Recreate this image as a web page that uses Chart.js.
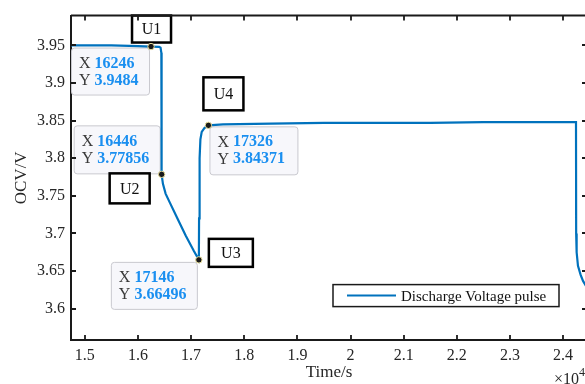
<!DOCTYPE html>
<html>
<head>
<meta charset="utf-8">
<script src="https://cdn.jsdelivr.net/npm/chart.js@4/dist/chart.umd.min.js"></script>
<style>
  html, body { margin: 0; padding: 0; background: #fff; overflow: hidden; }
  #wrap { width: 600px; height: 384px; }
</style>
</head>
<body>
<div id="wrap"><canvas id="chart" width="600" height="384"></canvas></div>
<script>
// discharge pulse
const timeS = [14740, 15500, 16000, 16246, 16400, 16425, 16440, 16444, 16446, 16470, 16520, 16600, 16750,
  16900, 17050, 17146, 17150, 17160, 17175, 17200, 17250, 17326, 17600, 18500, 19500, 20500, 21500,
  22500, 23500, 24243, 24246, 24255, 24280, 24330, 24375, 24450]
const ocvV = [3.950, 3.950, 3.949, 3.9484, 3.948, 3.947, 3.940, 3.900, 3.77856, 3.766, 3.753, 3.741, 3.719,
  3.697, 3.677, 3.66496, 3.720, 3.800, 3.825, 3.835, 3.840, 3.84371, 3.845, 3.846, 3.847, 3.847, 3.847,
  3.848, 3.848, 3.848, 3.700, 3.675, 3.657, 3.645, 3.637, 3.628]

const xTicks = [15000, 16000, 17000, 18000, 19000, 20000, 21000, 22000, 23000, 24000]
const yTicks = [3.6, 3.65, 3.7, 3.75, 3.8, 3.85, 3.9, 3.95]

const tipNames = ['U1', 'U2', 'U3', 'U4']
const tipTimes = [16246, 16446, 17146, 17326]
const tipValues = [3.9484, 3.77856, 3.66496, 3.84371]

const seriesName = 'Discharge Voltage pulse'

// box offsets relative to each marker (pixels)
const tipBoxes = [
  { dx: -80, dy: 1, w: 78, h: 47 },
  { dx: -88, dy: -49, w: 86, h: 48 },
  { dx: -88, dy: 2, w: 86, h: 47 },
  { dx: 1, dy: 1, w: 88, h: 48 }
]
const nameBoxes = [
  { dx: -19, dy: -31, w: 39, h: 27 },
  { dx: -52, dy: -1, w: 40, h: 30 },
  { dx: 10, dy: -21, w: 44, h: 28 },
  { dx: -5, dy: -48, w: 40, h: 33 }
]

const SERIF = '"Liberation Serif", "Times New Roman", serif'
const lineColor = '#0072BD'
const tipBlue = '#1a8ff0'

function roundRect(ctx, x, y, w, h, r) {
  ctx.beginPath()
  ctx.moveTo(x + r, y)
  ctx.lineTo(x + w - r, y)
  ctx.quadraticCurveTo(x + w, y, x + w, y + r)
  ctx.lineTo(x + w, y + h - r)
  ctx.quadraticCurveTo(x + w, y + h, x + w - r, y + h)
  ctx.lineTo(x + r, y + h)
  ctx.quadraticCurveTo(x, y + h, x, y + h - r)
  ctx.lineTo(x, y + r)
  ctx.quadraticCurveTo(x, y, x + r, y)
  ctx.closePath()
}

const annotations = {
  id: 'annotations',
  beforeDatasetsDraw(chart) {
    const { ctx, scales: { x, y } } = chart
    ctx.save()
    tipTimes.forEach((t, i) => {
      const px = x.getPixelForValue(t)
      const py = y.getPixelForValue(tipValues[i])

      // data tip
      const b = tipBoxes[i]
      const bx = px + b.dx, by = py + b.dy
      roundRect(ctx, bx + 0.5, by + 0.5, b.w, b.h, 3)
      ctx.fillStyle = '#f7f7fb'
      ctx.fill()
      ctx.strokeStyle = '#c9c9cf'
      ctx.lineWidth = 1
      ctx.stroke()

      ctx.textBaseline = 'middle'
      ctx.textAlign = 'left'
      const rows = [['X ', String(t)], ['Y ', String(tipValues[i])]]
      rows.forEach((row, k) => {
        const ty = by + 16 + k * 17
        ctx.font = '16px ' + SERIF
        ctx.fillStyle = '#3a3a3a'
        ctx.fillText(row[0], bx + 8, ty)
        const w0 = ctx.measureText(row[0]).width
        ctx.font = 'bold 16px ' + SERIF
        ctx.fillStyle = tipBlue
        ctx.fillText(row[1], bx + 8 + w0, ty)
      })

      // name box
      const n = nameBoxes[i]
      const nx = px + n.dx, ny = py + n.dy
      ctx.fillStyle = '#fff'
      ctx.fillRect(nx, ny, n.w, n.h)
      ctx.strokeStyle = '#000'
      ctx.lineWidth = 2.5
      ctx.strokeRect(nx, ny, n.w, n.h)
      ctx.font = '16px ' + SERIF
      ctx.fillStyle = '#111'
      ctx.textAlign = 'center'
      ctx.fillText(tipNames[i], nx + n.w / 2, ny + n.h / 2 + 1)
    })
    ctx.restore()
  },
  afterDraw(chart) {
    const { ctx, chartArea: ca, scales: { x, y } } = chart
    ctx.save()

    // box + inward ticks
    ctx.strokeStyle = '#1a1a1a'
    ctx.lineWidth = 2
    ctx.beginPath()
    ctx.moveTo(ca.left, ca.top)
    ctx.lineTo(ca.right, ca.top)
    ctx.lineTo(ca.right, ca.bottom)
    ctx.stroke()

    ctx.lineWidth = 1.8
    ctx.beginPath()
    xTicks.forEach(v => {
      const px = Math.round(x.getPixelForValue(v))
      ctx.moveTo(px, ca.bottom)
      ctx.lineTo(px, ca.bottom - 5)
      ctx.moveTo(px, ca.top)
      ctx.lineTo(px, ca.top + 5)
    })
    yTicks.forEach(v => {
      const py = Math.round(y.getPixelForValue(v))
      ctx.moveTo(ca.left, py)
      ctx.lineTo(ca.left + 5, py)
      ctx.moveTo(ca.right, py)
      ctx.lineTo(ca.right - 5, py)
    })
    ctx.stroke()

    // legend
    const lx = ca.left + 262, ly = ca.top + 269, lw = 226, lh = 22
    ctx.fillStyle = '#fff'
    ctx.fillRect(lx, ly, lw, lh)
    ctx.strokeStyle = '#1a1a1a'
    ctx.lineWidth = 1.5
    ctx.strokeRect(lx, ly, lw, lh)
    ctx.strokeStyle = lineColor
    ctx.lineWidth = 2
    ctx.beginPath()
    ctx.moveTo(lx + 14, ly + lh / 2)
    ctx.lineTo(lx + 63, ly + lh / 2)
    ctx.stroke()
    ctx.font = '15px ' + SERIF
    ctx.fillStyle = '#111'
    ctx.textAlign = 'left'
    ctx.textBaseline = 'middle'
    ctx.fillText(seriesName, lx + 68, ly + lh / 2 + 1)

    // exponent
    ctx.font = '16px ' + SERIF
    ctx.fillStyle = '#262626'
    ctx.textBaseline = 'alphabetic'
    ctx.fillText('\u00d710', 554, 384)
    const ew = ctx.measureText('\u00d710').width
    ctx.font = '12px ' + SERIF
    ctx.fillText('4', 554 + ew, 376)

    ctx.restore()
  }
}

const tickFont = { family: SERIF, size: 16 }

new Chart(document.getElementById('chart'), {
  type: 'line',
  data: {
    datasets: [
      {
        label: seriesName,
        data: timeS.map((t, i) => ({ x: t, y: ocvV[i] })),
        borderColor: lineColor,
        borderWidth: 2.2,
        pointRadius: 0,
        tension: 0,
        fill: false,
        order: 1
      },
      {
        label: 'tips',
        data: tipTimes.map((t, i) => ({ x: t, y: tipValues[i] })),
        showLine: false,
        pointRadius: 3.2,
        pointBackgroundColor: '#1a1a1a',
        pointBorderColor: '#e6dc9a',
        pointBorderWidth: 1,
        order: 0
      }
    ]
  },
  options: {
    responsive: false,
    animation: false,
    devicePixelRatio: 1,
    layout: { padding: { top: 13, right: 13, left: 0, bottom: 0 } },
    plugins: {
      legend: { display: false },
      tooltip: { enabled: false }
    },
    scales: {
      x: {
        type: 'linear',
        min: 14740,
        max: 24450,
        afterBuildTicks: s => { s.ticks = xTicks.map(v => ({ value: v })) },
        afterFit: s => { s.height = 44 },
        grid: { display: false, drawTicks: false },
        border: { display: true, color: '#1a1a1a', width: 2 },
        ticks: {
          padding: 6,
          color: '#262626',
          font: tickFont,
          maxRotation: 0,
          autoSkip: false,
          callback: v => String(v / 1e4)
        },
        title: {
          display: true,
          text: 'Time/s',
          color: '#262626',
          font: { family: SERIF, size: 17 },
          padding: { top: 0, bottom: 1 }
        }
      },
      y: {
        min: 3.5585,
        max: 3.9895,
        afterBuildTicks: s => { s.ticks = yTicks.map(v => ({ value: v })) },
        afterFit: s => { s.width = 71 },
        grid: { display: false, drawTicks: false },
        border: { display: true, color: '#1a1a1a', width: 2 },
        ticks: {
          padding: 6,
          color: '#262626',
          font: tickFont,
          autoSkip: false,
          callback: v => String(v)
        },
        title: {
          display: true,
          text: 'OCV/V',
          color: '#262626',
          font: { family: SERIF, size: 17 },
          padding: { top: 11, bottom: 0 }
        }
      }
    }
  },
  plugins: [annotations]
})
</script>
</body>
</html>
